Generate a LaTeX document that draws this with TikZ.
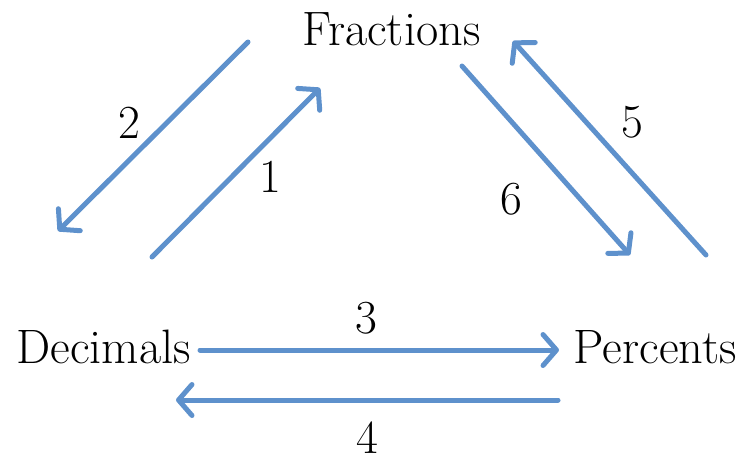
\documentclass[tikz,border=0pt]{standalone}
\usepackage{xcolor}
\usepackage{tikz}
\usetikzlibrary{arrows.meta,positioning,calc}
\definecolor{arrowblue}{RGB}{94,145,204}

\begin{document}
\begin{tikzpicture}[
    x=0.02cm, y=-0.02cm,
    term/.style={anchor=base, inner sep=0pt, font=\rmfamily\fontsize{27.5}{32}\selectfont},
    num/.style={anchor=base, inner sep=0pt, font=\rmfamily\fontsize{27}{32}\selectfont},
    convert/.style={draw=arrowblue, line width=0.1cm, line cap=round, -{Straight Barb[length=0.27cm, width=0.62cm, round]}}
]
\useasboundingbox (0,0) rectangle (739,461);

% Terms
\node[term] (frac) at (391.5,45) {Fractions};
\node[term] (dec) at (103.5,363) {Decimals};
\node[term] (perc) at (655,363) {Percents};

% Arrow ends
\coordinate (a2s) at (248,42);  \coordinate (a2e) at (58,231);
\coordinate (a1s) at (152,257); \coordinate (a1e) at (320,88);
\coordinate (a6s) at (462,66);  \coordinate (a6e) at (630,255);
\coordinate (a5s) at (706,255); \coordinate (a5e) at (513,41);
\coordinate (a3s) at (200,350); \coordinate (a3e) at (559,350);
\coordinate (a4s) at (558,400); \coordinate (a4e) at (176,400);

% Conversions
\draw[convert] (a2s) -- (a2e);
\draw[convert] (a1s) -- (a1e);
\draw[convert] (a6s) -- (a6e);
\draw[convert] (a5s) -- (a5e);
\draw[convert] (a3s) -- (a3e);
\draw[convert] (a4s) -- (a4e);

% Numbers
\node[num] (n1) at (270,192) {1};
\node[num] (n2) at (129,138) {2};
\node[num] (n3) at (366,333) {3};
\node[num] (n4) at (367,453) {4};
\node[num] (n5) at (632,137) {5};
\node[num] (n6) at (511,214) {6};

\end{tikzpicture}
\end{document}
